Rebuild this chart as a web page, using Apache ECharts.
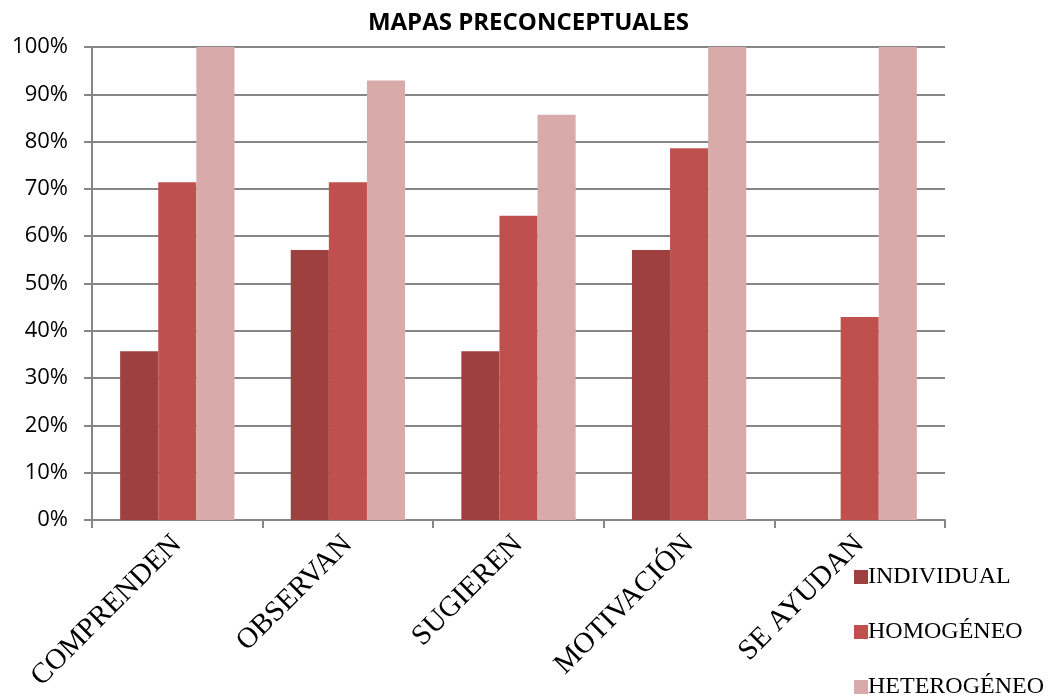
<!DOCTYPE html>
<html lang="es">
<head>
  <meta charset="UTF-8">
  <title>Mapas preconceptuales</title>
  <script src="https://cdn.jsdelivr.net/npm/echarts@6/dist/echarts.min.js"></script>
  <style>
    html, body { margin: 0; padding: 0; background: #fff; }
    #chart { width: 1057px; height: 698px; }
  </style>
</head>
<body>
  <div id="chart"></div>
  <script>
    // datos
    const categorias = ['COMPRENDEN', 'OBSERVAN', 'SUGIEREN', 'MOTIVACIÓN', 'SE AYUDAN'];
    const individual = [35.7, 57.1, 35.7, 57.1, 0];
    const homogeneo = [71.4, 71.4, 64.3, 78.6, 42.9];
    const heterogeneo = [100, 92.9, 85.7, 100, 100];
    const serieNombres = ['INDIVIDUAL', 'HOMOGÉNEO', 'HETEROGÉNEO'];
    const colores = ['#9E403F', '#C0504D', '#D9AAAA'];

    const chart = echarts.init(document.getElementById('chart'));
    const serif = '"Liberation Serif", "DejaVu Serif", serif';
    const sans = '"Open Sans", "Liberation Sans", sans-serif';

    chart.setOption({
      animation: false,
      title: {
        text: 'MAPAS PRECONCEPTUALES',
        left: 'center',
        top: 6,
        textStyle: { fontFamily: sans, fontWeight: 'bold', fontSize: 24, color: '#000' }
      },
      legend: {
        orient: 'vertical',
        left: 849,
        top: 560,
        height: 200,
        itemWidth: 14,
        itemHeight: 14,
        itemGap: 31,
        icon: 'rect',
        textStyle: { fontFamily: serif, fontSize: 24, color: '#000', padding: [0, 0, 0, -5] },
        data: serieNombres
      },
      grid: { left: 92, right: 112, top: 47, bottom: 178 },
      xAxis: {
        type: 'category',
        data: categorias,
        axisLine: { lineStyle: { color: '#868686', width: 2 } },
        axisTick: { show: true, length: 8, lineStyle: { color: '#868686', width: 2 } },
        axisLabel: {
          rotate: 45,
          margin: 20,
          fontFamily: serif,
          fontSize: 29,
          color: '#000'
        }
      },
      yAxis: {
        type: 'value',
        min: 0,
        max: 100,
        interval: 10,
        axisLine: { show: true, lineStyle: { color: '#868686', width: 2 } },
        axisTick: { show: true, length: 8, lineStyle: { color: '#868686', width: 2 } },
        splitLine: { lineStyle: { color: '#868686', width: 2 } },
        axisLabel: {
          formatter: '{value}%',
          margin: 24,
          fontFamily: sans,
          fontSize: 22,
          color: '#000'
        }
      },
      series: [individual, homogeneo, heterogeneo].map((d, i) => ({
        name: serieNombres[i],
        type: 'bar',
        data: d,
        barGap: '0%',
        barCategoryGap: '33%',
        itemStyle: { color: colores[i] }
      }))
    });
  </script>
</body>
</html>
